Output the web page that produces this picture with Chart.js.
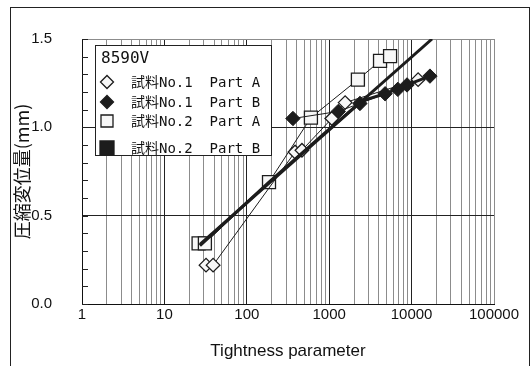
<!DOCTYPE html>
<html>
<head>
<meta charset="utf-8">
<script src="https://cdn.jsdelivr.net/npm/chart.js@4.4.1/dist/chart.umd.min.js"></script>
<style>
  html, body { margin: 0; padding: 0; background: #fff; overflow: hidden; }
  #wrap { position: relative; width: 531px; height: 366px; }
  #frame { position: absolute; left: 10px; top: 7px; width: 518px; height: 420px; border: 1px solid #222; pointer-events: none; }
  canvas { position: absolute; left: 0; top: 0; }
</style>
</head>
<body>
<div id="wrap">
  <canvas id="c" width="531" height="366"></canvas>
  <div id="frame"></div>
</div>
<script>
// ---- data ----
const legendTitle = '8590V';
const seriesLabels = ['試料No.1  Part A', '試料No.1  Part B', '試料No.2  Part A', '試料No.2  Part B'];

const s1x = [32, 39, 385, 467, 1075, 1560, 12000];
const s1y = [0.22, 0.22, 0.86, 0.87, 1.05, 1.14, 1.27];

const s2x = [363, 1290, 2360, 4770, 6800, 8800, 16700];
const s2y = [1.05, 1.09, 1.135, 1.19, 1.215, 1.24, 1.29];

const s3x = [26, 31, 186, 600, 2230, 4140, 5480];
const s3y = [0.343, 0.343, 0.69, 1.055, 1.27, 1.376, 1.403];

const s4x = [27, 186, 1000, 2500, 4770, 8800, 16700];
const s4y = [0.33, 0.69, 0.99, 1.15, 1.19, 1.24, 1.29];

const fitX = [27, 17700];
const fitY = [0.337, 1.5];

const xMajor = [1, 10, 100, 1000, 10000, 100000];
const xTickLabels = ['1', '10', '100', '1000', '10000', '100000'];
const yTickValues = [0, 0.5, 1.0, 1.5];
const yTickLabels = ['0.0', '0.5', '1.0', '1.5'];
const xTitle = 'Tightness parameter';
const yTitle = '圧縮変位量(mm)';

const pts = (xs, ys) => xs.map((x, i) => ({x: x, y: ys[i]}));

const INK = '#1c1c1c';
const OPEN = '#f7f7f7';

const datasets = [
  { label: seriesLabels[0], data: pts(s1x, s1y), pointStyle: 'rectRot', pointRadius: 6.8,
    backgroundColor: OPEN, borderColor: INK, pointBorderWidth: 1.3, borderWidth: 1, order: 3,
    legendMarker: 'diamondOpen' },
  { label: seriesLabels[1], data: pts(s2x, s2y), pointStyle: 'rectRot', pointRadius: 7.2,
    backgroundColor: INK, borderColor: INK, pointBorderWidth: 1, borderWidth: 1, order: 2,
    legendMarker: 'diamondFilled' },
  { label: seriesLabels[2], data: pts(s3x, s3y), pointStyle: 'rect', pointRadius: 9.2,
    backgroundColor: OPEN, borderColor: INK, pointBorderWidth: 1.3, borderWidth: 1, order: 4,
    legendMarker: 'squareOpen' },
  { label: seriesLabels[3], data: pts(s4x, s4y), pointStyle: 'rect', pointRadius: 0,
    backgroundColor: INK, borderColor: INK, borderWidth: 3, order: 1,
    legendMarker: 'squareFilled' },
  { label: 'fit', data: pts(fitX, fitY), pointRadius: 0, borderColor: INK, borderWidth: 3, order: 0,
    legendMarker: null }
];

const isHalf = v => Math.abs(v * 2 - Math.round(v * 2)) < 1e-6;

const innerTicks = {
  id: 'innerTicks',
  afterDraw(chart) {
    const ctx = chart.ctx, y = chart.scales.y, a = chart.chartArea;
    ctx.save();
    ctx.strokeStyle = '#222';
    ctx.lineWidth = 1;
    y.ticks.forEach(t => {
      const py = Math.round(y.getPixelForValue(t.value)) + 0.5;
      ctx.beginPath();
      ctx.moveTo(a.left, py);
      ctx.lineTo(a.left + 6, py);
      ctx.stroke();
    });
    ctx.restore();
  }
};

function drawMarker(ctx, kind, x, y) {
  ctx.save();
  ctx.lineWidth = 1.3;
  ctx.strokeStyle = INK;
  ctx.beginPath();
  if (kind === 'diamondOpen' || kind === 'diamondFilled') {
    const r = 6.5;
    ctx.moveTo(x - r, y); ctx.lineTo(x, y - r); ctx.lineTo(x + r, y); ctx.lineTo(x, y + r); ctx.closePath();
    ctx.fillStyle = kind === 'diamondOpen' ? OPEN : INK;
  } else {
    const s = kind === 'squareOpen' ? 6 : 7;
    ctx.rect(x - s, y - s, 2 * s, 2 * s);
    ctx.fillStyle = kind === 'squareOpen' ? OPEN : INK;
  }
  ctx.fill();
  ctx.stroke();
  ctx.restore();
}

const boxLegend = {
  id: 'boxLegend',
  afterDraw(chart) {
    const ctx = chart.ctx, a = chart.chartArea;
    const x0 = a.left + 13, y0 = a.top + 6, w = 176, h = 110;
    ctx.save();
    ctx.fillStyle = '#fff';
    ctx.fillRect(x0, y0, w, h);
    ctx.strokeStyle = '#222';
    ctx.lineWidth = 1;
    ctx.strokeRect(x0 + 0.5, y0 + 0.5, w, h);
    ctx.fillStyle = '#111';
    ctx.textBaseline = 'middle';
    ctx.textAlign = 'left';
    ctx.font = '16px "DejaVu Sans Mono", "Noto Sans CJK JP", monospace';
    ctx.fillText(legendTitle, x0 + 6, y0 + 14);
    ctx.font = '14px "DejaVu Sans Mono", "Noto Sans CJK JP", monospace';
    const rowOffsets = [37, 57, 76, 103];
    const items = chart.data.datasets.filter(d => d.legendMarker);
    items.forEach((d, i) => {
      const cy = y0 + rowOffsets[i];
      drawMarker(ctx, d.legendMarker, x0 + 12, cy);
      ctx.fillStyle = '#111';
      ctx.fillText(d.label, x0 + 36, cy + 1);
    });
    ctx.restore();
  }
};

const tickFont = { family: '"Liberation Sans", Arial, sans-serif', size: 15 };

new Chart(document.getElementById('c'), {
  type: 'line',
  data: { datasets: datasets },
  options: {
    responsive: false,
    animation: false,
    events: [],
    layout: { padding: { top: 24, right: 37, left: 0, bottom: 0 } },
    plugins: { legend: { display: false }, tooltip: { enabled: false } },
    elements: { line: { tension: 0 } },
    scales: {
      x: {
        type: 'logarithmic',
        min: 1, max: 100000,
        afterBuildTicks: s => {
          const t = [];
          for (let i = 0; i < xMajor.length - 1; i++) {
            for (let m = 1; m <= 9; m++) t.push({ value: xMajor[i] * m, major: m === 1 });
          }
          t.push({ value: xMajor[xMajor.length - 1], major: true });
          s.ticks = t;
        },
        afterFit: s => { s.height = 62; },
        ticks: {
          autoSkip: false, maxRotation: 0, padding: 2, color: '#111', font: tickFont,
          callback: v => { const i = xMajor.indexOf(v); return i >= 0 ? xTickLabels[i] : ''; }
        },
        grid: {
          drawTicks: false,
          lineWidth: 1,
          color: c => {
            const v = c.tick && c.tick.value;
            if (v === xMajor[xMajor.length - 1]) return '#8c8c8c';
            return xMajor.indexOf(v) >= 0 ? '#222' : '#8c8c8c';
          }
        },
        border: { color: '#111', width: 1 },
        title: {
          display: true, text: xTitle, color: '#111',
          font: { family: '"Liberation Sans", Arial, sans-serif', size: 17 },
          padding: { top: 0, bottom: 4 }
        }
      },
      y: {
        type: 'linear',
        min: 0, max: 1.5,
        afterBuildTicks: s => {
          const t = [];
          for (let i = 0; i <= 15; i++) t.push({ value: i / 10 });
          s.ticks = t;
        },
        afterFit: s => { s.width = 82; },
        ticks: {
          autoSkip: false, padding: 30, color: '#111', font: tickFont,
          callback: v => {
            const i = yTickValues.findIndex(t => Math.abs(t - v) < 1e-6);
            return i >= 0 ? yTickLabels[i] : '';
          }
        },
        grid: {
          drawTicks: false,
          lineWidth: 1,
          color: c => {
            const v = c.tick && c.tick.value;
            if (Math.abs(v - 1.5) < 1e-6) return '#8c8c8c';
            return isHalf(v) ? '#222' : 'rgba(0,0,0,0)';
          }
        },
        border: { color: '#111', width: 1 },
        title: {
          display: true, text: yTitle, color: '#111',
          font: { family: '"Noto Sans CJK JP", sans-serif', size: 18 },
          padding: { top: 11, bottom: 0 }
        }
      }
    }
  },
  plugins: [innerTicks, boxLegend]
});
</script>
</body>
</html>
